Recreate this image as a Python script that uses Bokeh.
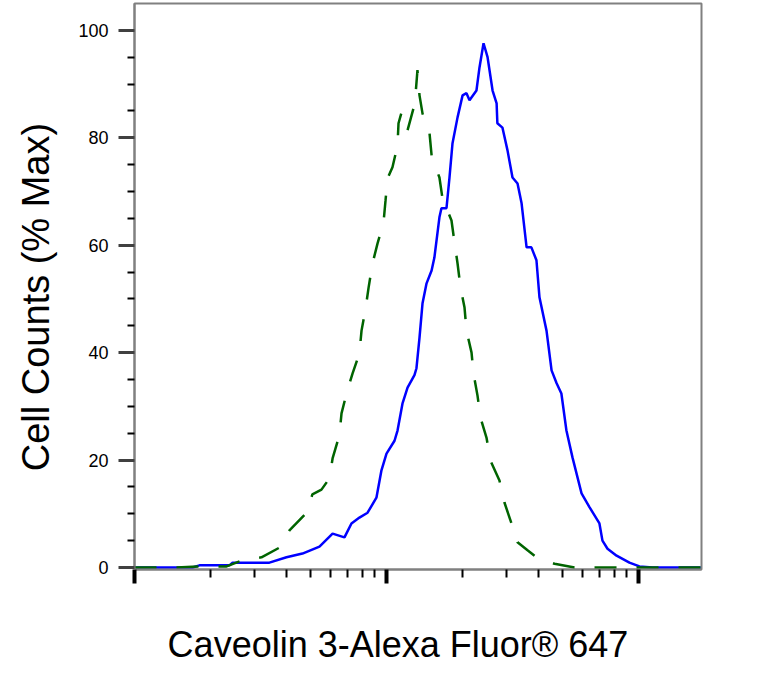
from bokeh.plotting import figure
from bokeh.models import Range1d, FixedTicker
from bokeh.embed import file_html
from bokeh.resources import INLINE

# Caveolin 3 stained cells (blue, solid): intensity vs % of max
stain_x = [100, 170, 181, 238, 245, 343, 401, 464, 542, 611,
           681, 726, 781, 841, 912, 955, 1000, 1076, 1106, 1157,
           1212, 1291, 1315, 1352, 1390, 1442, 1510, 1549, 1622, 1652,
           1730, 1778, 1828, 1914, 2004, 2077, 2135, 2275, 2339, 2427,
           2518, 2636, 2735, 2754, 2884, 3020, 3162, 3311, 3436, 3597,
           3758, 3936, 4046, 4315, 4519, 4732, 4943, 5176, 5470, 5943,
           6397, 6998, 7194, 7534, 8185, 9205, 10090, 11370, 17620]
stain_y = [0, 0, 0.4, 0.4, 0.9, 0.9, 1.9, 2.6, 3.9, 6.3,
           5.6, 8.2, 9.3, 10.2, 13.0, 18.1, 21.2, 23.6, 25.5, 30.5,
           33.5, 35.8, 37.1, 42.8, 49.2, 52.9, 55.3, 57.7, 65.2, 66.9,
           66.9, 72.6, 79.0, 83.8, 87.9, 88.3, 87.0, 88.8, 93.1, 97.6,
           95.0, 88.8, 86.4, 82.7, 81.9, 77.7, 72.6, 71.5, 67.8, 59.6,
           59.6, 57.2, 50.3, 44.1, 36.7, 34.3, 32.4, 25.5, 20.5, 13.8,
           11.2, 8.2, 5.0, 3.5, 2.2, 0.9, 0.2, 0, 0]

# isotype control (green, dashed)
control_x = [100, 144, 178, 232, 266, 319, 376, 412, 482, 508,
             552, 594, 611, 650, 663, 694, 733, 781, 796, 826,
             849, 880, 921, 973, 991, 1009, 1056, 1106, 1116, 1147,
             1178, 1212, 1280, 1303, 1327, 1352, 1390, 1482, 1510, 1622,
             1668, 1811, 1862, 1914, 1967, 2040, 2077, 2175, 2215, 2297,
             2360, 2493, 2586, 2807, 2938, 3133, 3311, 3628, 3936, 4642,
             5572, 6808, 17620]
control_y = [0, 0, 0.2, 0.2, 1.3, 1.9, 3.7, 6.9, 10.2, 13.6,
             14.5, 16.6, 20.3, 24.6, 28.7, 32.4, 36.1, 39.9, 44.1, 48.2,
             52.1, 56.6, 60.3, 64.2, 68.3, 72.4, 74.5, 78.6, 82.7, 84.7,
             82.9, 81.4, 85.5, 87.9, 92.6, 87.9, 84.5, 80.8, 76.7, 72.6,
             68.7, 64.6, 60.5, 56.6, 52.1, 48.4, 44.1, 40.0, 36.1, 32.0,
             27.9, 24.2, 19.9, 16.2, 12.1, 8.2, 4.7, 3.2, 1.9, 0.7,
             0, 0, 0]

y_ticks = [0, 20, 40, 60, 80, 100]
y_minor = [5, 10, 15, 25, 30, 35, 45, 50, 55, 65, 70, 75, 85, 90, 95]
x_ticks = [100, 1000, 10000]
x_minor = [m * d for d in (100, 1000) for m in range(2, 10)]

x_title = "Caveolin 3-Alexa Fluor\u00ae 647"
y_title = "Cell Counts (% Max)"

FONT = "Liberation Sans"
GREY = "#808080"
NBSP = "\u00a0"

p = figure(
    width=763, height=676,
    x_axis_type="log",
    x_range=Range1d(100, 10 ** 4.25),
    y_range=Range1d(-0.37, 105.0),
    output_backend="svg",
    toolbar_location=None,
    min_border_left=134, min_border_right=62,
    min_border_top=3, min_border_bottom=107,
)
p.grid.visible = False
p.outline_line_color = GREY
p.outline_line_width = 2
p.background_fill_color = "white"
p.border_fill_color = "white"

p.line(stain_x, stain_y, line_color="#0000ff", line_width=2.5)
p.line(control_x, control_y, line_color="#006400", line_width=2.5,
       line_dash="22 20")

# x axis: decades, numbers hidden
xa = p.xaxis[0]
xa.ticker = FixedTicker(ticks=x_ticks, minor_ticks=x_minor)
xa.major_label_text_alpha = 0
xa.major_label_text_font_size = "8px"
xa.axis_line_color = GREY
xa.axis_line_width = 2
xa.major_tick_in = 0
xa.major_tick_out = 14
xa.major_tick_line_width = 4
xa.major_tick_line_color = "black"
xa.minor_tick_in = 0
xa.minor_tick_out = 8
xa.minor_tick_line_width = 2
xa.minor_tick_line_color = "black"
# trailing no-break spaces nudge the centred title to the left
xa.axis_label = x_title + NBSP * 4
xa.axis_label_text_font = FONT
xa.axis_label_text_font_size = "36px"
xa.axis_label_text_font_style = "normal"
xa.axis_label_text_color = "black"
xa.axis_label_standoff = 40

ya = p.yaxis[0]
ya.ticker = FixedTicker(ticks=y_ticks, minor_ticks=y_minor)
ya.axis_line_color = GREY
ya.axis_line_width = 2
ya.major_tick_in = 0
ya.major_tick_out = 16
ya.major_tick_line_width = 3
ya.major_tick_line_color = "#404040"
ya.minor_tick_in = 0
ya.minor_tick_out = 7
ya.minor_tick_line_width = 2
ya.minor_tick_line_color = "black"
ya.major_label_standoff = 10
ya.major_label_text_font = FONT
ya.major_label_text_font_size = "18px"
ya.major_label_text_color = "black"
ya.axis_label = y_title + NBSP * 2
ya.axis_label_text_font = FONT
ya.axis_label_text_font_size = "38px"
ya.axis_label_text_font_style = "normal"
ya.axis_label_text_color = "black"
ya.axis_label_standoff = 18

open("out.html", "w").write(file_html(p, INLINE))
